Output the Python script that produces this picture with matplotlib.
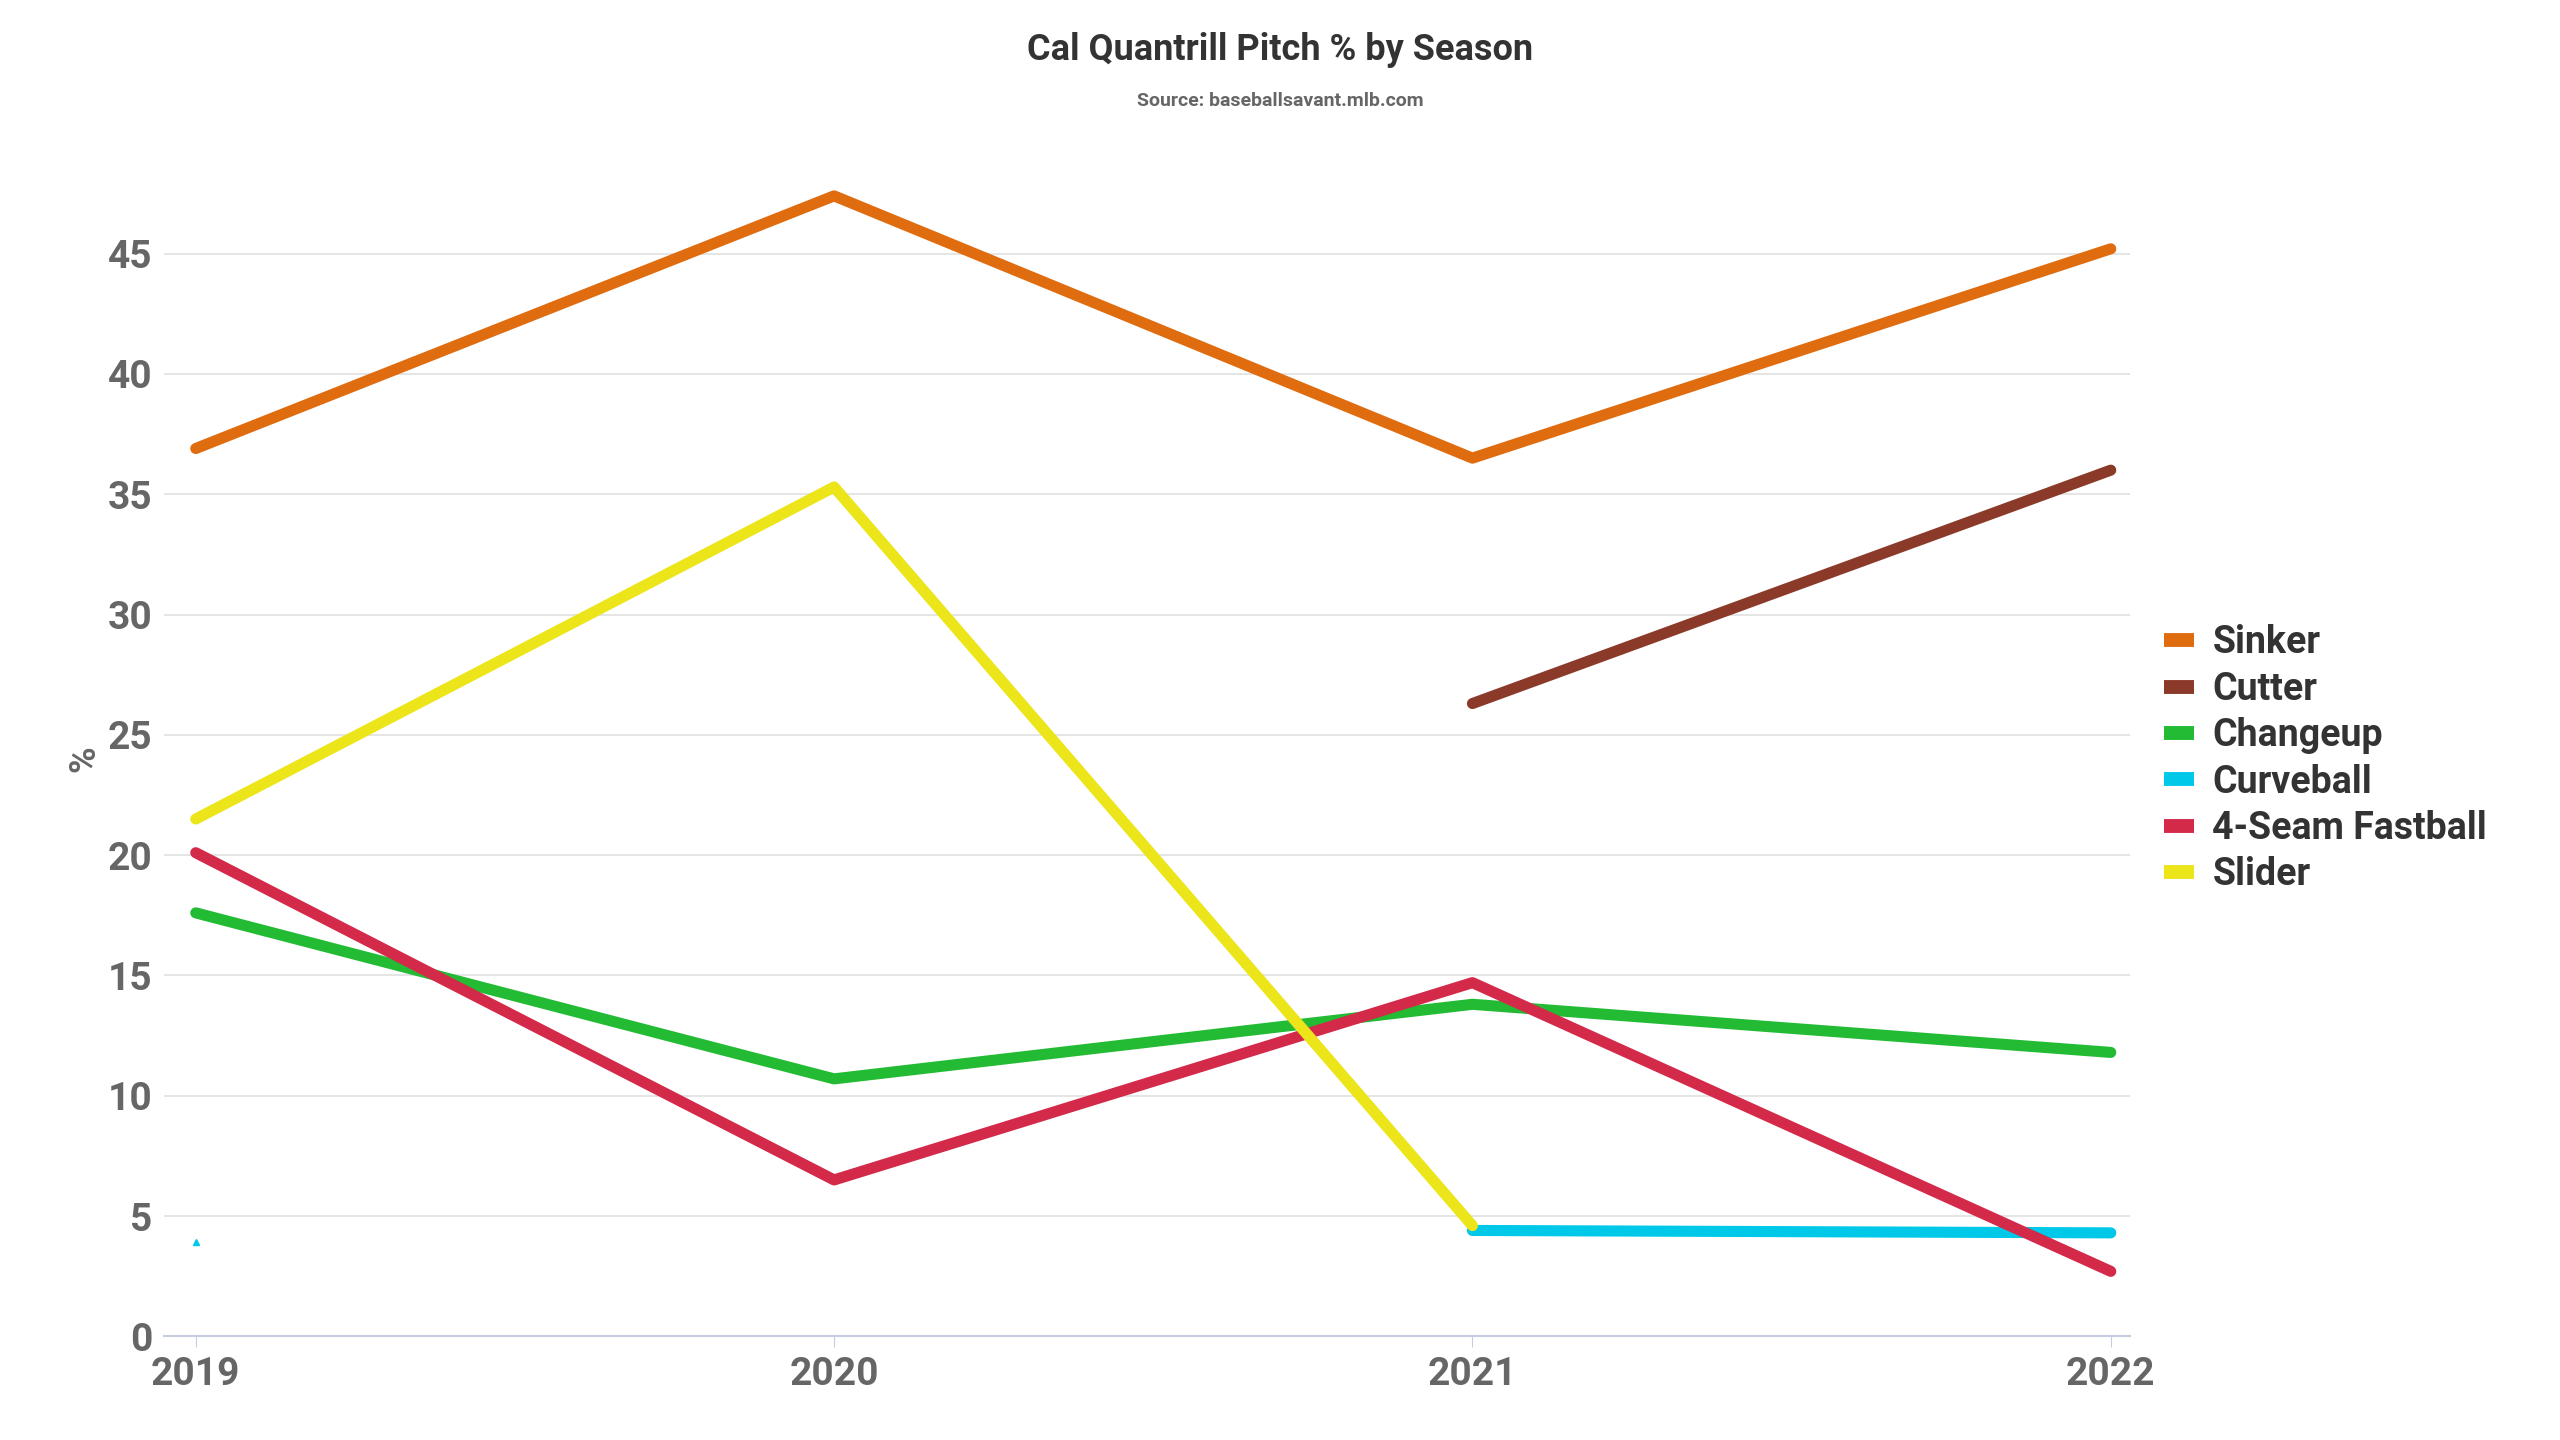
import numpy as np
import matplotlib.pyplot as plt

plt.rcParams["font.family"] = ["Roboto", "DejaVu Sans"]

years = ["2019", "2020", "2021", "2022"]
sinker = [36.9, 47.4, 36.5, 45.2]
cutter = [np.nan, np.nan, 26.3, 36.0]
changeup = [17.6, 10.7, 13.8, 11.8]
curveball = [3.9, np.nan, 4.4, 4.3]
fastball = [20.1, 6.5, 14.7, 2.7]
slider = [21.5, 35.3, 4.6, np.nan]

series = [
    ("Sinker", sinker, "#e06c10"),
    ("Cutter", cutter, "#8b3a2a"),
    ("Changeup", changeup, "#22bb33"),
    ("Curveball", curveball, "#00c8e8"),
    ("4-Seam Fastball", fastball, "#d42a4a"),
    ("Slider", slider, "#ebe51a"),
]

fig = plt.figure(figsize=(25.6, 14.4), dpi=100)
ax = fig.add_axes([0.064, 0.072, 0.768, 0.802])
x = np.arange(len(years))
for name, vals, col in series:
    ax.plot(x, vals, color=col, lw=8, label=name, solid_capstyle="round", zorder=3)
# lone 2019 curveball point
ax.plot(0, curveball[0], marker="^", color="#00c8e8", ms=5, zorder=3)

ax.set_xlim(-0.05, 3.03)
ax.set_ylim(0, 48)
ax.set_yticks(range(0, 50, 5))
ax.set_xticks(x)
ax.set_xticklabels(years)
ax.grid(axis="y", color="#e0e0e0", lw=1.2, zorder=0)
for s in ["top", "right", "left"]:
    ax.spines[s].set_visible(False)
ax.spines["bottom"].set_color("#c8cce0")
ax.spines["bottom"].set_linewidth(1.5)
ax.tick_params(axis="both", length=0, labelsize=28, labelcolor="#666666", pad=8)
for lab in ax.get_xticklabels() + ax.get_yticklabels():
    lab.set_fontweight("bold")
ax.tick_params(axis="x", length=8, color="#c8cce0", pad=6)
ax.set_ylabel("%", fontsize=26, color="#666666", fontweight="bold")

fig.text(0.5, 0.965, "Cal Quantrill Pitch % by Season", ha="center", va="center",
         fontsize=26, fontweight="bold", color="#333333")
fig.text(0.5, 0.93, "Source: baseballsavant.mlb.com", ha="center", va="center",
         fontsize=14, fontweight="bold", color="#666666")

leg = ax.legend(loc="center left", bbox_to_anchor=(1.0, 0.5), frameon=False,
                fontsize=27, handlelength=0.8, handletextpad=0.5, labelspacing=0.25)
for t in leg.get_texts():
    t.set_fontweight("bold")
    t.set_color("#333333")
for h in leg.get_lines():
    h.set_linewidth(10)
    h.set_solid_capstyle("butt")

fig.savefig("out.png", dpi=100, facecolor="white")
